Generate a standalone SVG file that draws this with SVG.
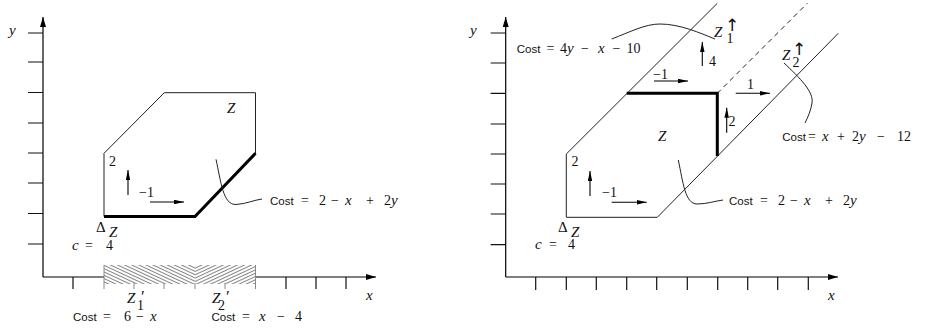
<svg xmlns="http://www.w3.org/2000/svg" width="931" height="332" viewBox="0 0 931 332">
<style>
.ax{stroke:#000;stroke-width:1.2;fill:none}
.tk{stroke:#111;stroke-width:1.2;fill:none}
.tg{stroke:#888;stroke-width:1;fill:none}
.ln{stroke:#222;stroke-width:1;fill:none}
.thk{stroke:#000;stroke-width:3;fill:none;stroke-linejoin:miter}
.dash{stroke:#222;stroke-width:1;fill:none;stroke-dasharray:5 4}
.ar{stroke:#000;stroke-width:1.1;fill:none}
text{font-family:"Liberation Serif","DejaVu Serif",serif;font-size:14px;fill:#111}
.i{font-style:italic;font-size:15px}
.s{font-family:"Liberation Sans","DejaVu Sans",sans-serif;font-size:11.5px}
.n{font-size:14px;font-style:normal}
.d{font-size:15px;font-style:normal}
.p{font-size:17px;font-style:normal}
.up{font-family:"DejaVu Sans",sans-serif;font-size:17px;font-style:normal}
</style>
<defs>
<marker id="big" viewBox="0 0 10 6" refX="10" refY="3" markerWidth="10" markerHeight="6" markerUnits="userSpaceOnUse" orient="auto"><path d="M0,0 L10,3 L0,6 z" fill="#000"/></marker>
<marker id="sm" viewBox="0 0 10 4.5" refX="10" refY="2.25" markerWidth="10" markerHeight="4.5" markerUnits="userSpaceOnUse" orient="auto"><path d="M0,0 L10,2.25 L0,4.5 z" fill="#000"/></marker>
<pattern id="hl" patternUnits="userSpaceOnUse" width="10" height="3" patternTransform="rotate(25)"><path d="M0,1.5 H10" stroke="#666" stroke-width="0.8"/></pattern>
<pattern id="hr" patternUnits="userSpaceOnUse" width="10" height="3" patternTransform="rotate(-25)"><path d="M0,1.5 H10" stroke="#666" stroke-width="0.8"/></pattern>
</defs>

<!-- LEFT PANEL -->
<g id="left-axes">
<path class="ax" d="M43,277 V17" marker-end="url(#big)"/>
<path class="ax" d="M43,277 H376" marker-end="url(#big)"/>
<path class="tk" d="M28,33H43 M28,62H43 M28,92.5H43 M28,123H43 M28,153H43 M28,183H43 M28,213.5H43 M28,244H43"/>
<path class="tk" d="M73,277V289 M286,277V289 M316,277V289 M346,277V289"/>
<rect x="104" y="265" width="151.5" height="19" fill="#fff"/>
<rect x="104" y="265" width="91" height="19" fill="url(#hl)"/>
<rect x="195" y="265" width="60.5" height="19" fill="url(#hr)"/>
<path class="tg" d="M104,265V289 M134,283V289 M164,283V289 M195,283V289 M225,283V289 M255.5,265V289"/>
<text x="9" y="35" class="i">y</text>
<text x="366" y="300" class="i">x</text>
</g>
<g id="left-Z">
<path class="ln" d="M104,216.5 L195,216.5 L255.5,153.3 L255.5,92.7 L164.3,92.7 L104,153.3 Z"/>
<path class="thk" d="M104,216.5 L195,216.5 L255.5,153.3"/>
<text x="227" y="113" class="i">Z</text>
<text x="109" y="166" class="n">2</text>
<path class="ar" d="M128,195 V170" marker-end="url(#sm)"/>
<text x="139" y="197" class="n">−1</text>
<path class="ar" d="M150,202 H184" marker-end="url(#sm)"/>
</g>
<g id="left-delta">
<text x="96" y="232"><tspan class="d">Δ</tspan><tspan x="109" y="237" class="i">Z</tspan></text>
<text x="72" y="250"><tspan class="i">c</tspan><tspan x="85">=</tspan><tspan x="106">4</tspan></text>
</g>
<g id="left-cost">
<path class="ln" d="M216,159.3 C221,182 223,205 236,204.5 C246,204 254,200 262,199"/>
<text x="270" y="204.5"><tspan class="s">Cost</tspan><tspan x="301">=</tspan><tspan x="319">2</tspan><tspan x="331">−</tspan><tspan x="345" class="i">x</tspan><tspan x="366">+</tspan><tspan x="384">2</tspan><tspan x="391" class="i">y</tspan></text>
</g>
<g id="left-Z1p">
<text x="127" y="302.5" class="i">Z<tspan x="141" y="301.5" class="p">′</tspan><tspan x="137" y="310" class="n">1</tspan></text>
<text x="73" y="321"><tspan class="s">Cost</tspan><tspan x="103">=</tspan><tspan x="124">6</tspan><tspan x="136">−</tspan><tspan x="150" class="i">x</tspan></text>
</g>
<g id="left-Z2p">
<text x="212" y="302.5" class="i">Z<tspan x="226" y="301.5" class="p">′</tspan><tspan x="218" y="310" class="n">2</tspan></text>
<text x="211.5" y="321"><tspan class="s">Cost</tspan><tspan x="242">=</tspan><tspan x="259" class="i">x</tspan><tspan x="277">−</tspan><tspan x="295">4</tspan></text>
</g>

<!-- RIGHT PANEL -->
<g id="right-axes">
<path class="ax" d="M505.7,277 V17" marker-end="url(#big)"/>
<path class="ax" d="M505.7,277 H838" marker-end="url(#big)"/>
<path class="tk" d="M490.7,33H505.7 M490.7,63H505.7 M490.7,93.3H505.7 M490.7,124H505.7 M490.7,154H505.7 M490.7,184H505.7 M490.7,214H505.7 M490.7,244.7H505.7"/>
<path class="tk" d="M535.7,277V290 M566.3,277V290 M596.3,277V290 M626.7,277V290 M656.7,277V290 M687.3,277V290 M717.7,277V290 M747.7,277V290 M777.7,277V290 M808.3,277V290"/>
<text x="470" y="35" class="i">y</text>
<text x="828" y="300" class="i">x</text>
</g>
<g id="connectors">
<path class="ln" d="M566.3,154 V217.3 H657.3 L838.3,33.3"/>
<path class="ln" d="M566.3,154 L717.3,3.3"/>
<path class="dash" d="M717.3,93.3 L807.3,3.3"/>
<path class="thk" d="M626.7,93.3 H717.3 V156"/>
</g>
<g id="right-Z">
<text x="658" y="141" class="i">Z</text>
<text x="571.5" y="166" class="n">2</text>
<path class="ar" d="M590,196 V171" marker-end="url(#sm)"/>
<text x="602" y="197" class="n">−1</text>
<path class="ar" d="M611.7,202.3 H646.7" marker-end="url(#sm)"/>
<path class="ar" d="M702.3,66 V42" marker-end="url(#sm)"/>
<text x="709" y="65.5" class="n">4</text>
<text x="653" y="79" class="n">−1</text>
<path class="ar" d="M654,81 H688" marker-end="url(#sm)"/>
<text x="747" y="89" class="n">1</text>
<path class="ar" d="M735.7,93.3 H770" marker-end="url(#sm)"/>
<path class="ar" d="M726.7,132.7 V107.7" marker-end="url(#sm)"/>
<text x="728.5" y="126" class="n">2</text>
</g>
<g id="right-delta">
<text x="558" y="232"><tspan class="d">Δ</tspan><tspan x="571" y="237" class="i">Z</tspan></text>
<text x="535" y="249"><tspan class="i">c</tspan><tspan x="549">=</tspan><tspan x="568">4</tspan></text>
</g>
<g id="right-cost-top">
<path class="ln" d="M611.7,39 C630,32 645,24 660,24 C680,24 700,33 715,39"/>
<text x="516.7" y="53"><tspan class="s">Cost</tspan><tspan x="546.5">=</tspan><tspan x="560">4</tspan><tspan x="567" class="i">y</tspan><tspan x="581">−</tspan><tspan x="598" class="i">x</tspan><tspan x="612.5">−</tspan><tspan x="626.5">10</tspan></text>
</g>
<g id="right-Z1up">
<text x="714" y="37" class="i">Z<tspan x="725" y="31" class="up">↑</tspan><tspan x="726.5" y="42.5" class="n">1</tspan></text>
</g>
<g id="right-Z2up">
<text x="782" y="60" class="i">Z<tspan x="792" y="55" class="up">↑</tspan><tspan x="792.5" y="67" class="n">2</tspan></text>
</g>
<g id="right-cost-z2">
<path class="ln" d="M784,63 C800,78 814,92 812,103 C811,110 808,117 805,123"/>
<text x="782.3" y="141"><tspan class="s">Cost</tspan><tspan x="808">=</tspan><tspan x="822" class="i">x</tspan><tspan x="837">+</tspan><tspan x="852">2</tspan><tspan x="859" class="i">y</tspan><tspan x="877">−</tspan><tspan x="897">12</tspan></text>
</g>
<g id="right-cost-z">
<path class="ln" d="M678.3,160 C683,182 685,204 697,204 C707,204 715,201 723,200"/>
<text x="729" y="204.5"><tspan class="s">Cost</tspan><tspan x="760">=</tspan><tspan x="778">2</tspan><tspan x="790">−</tspan><tspan x="804" class="i">x</tspan><tspan x="825">+</tspan><tspan x="843">2</tspan><tspan x="850" class="i">y</tspan></text>
</g>
</svg>
